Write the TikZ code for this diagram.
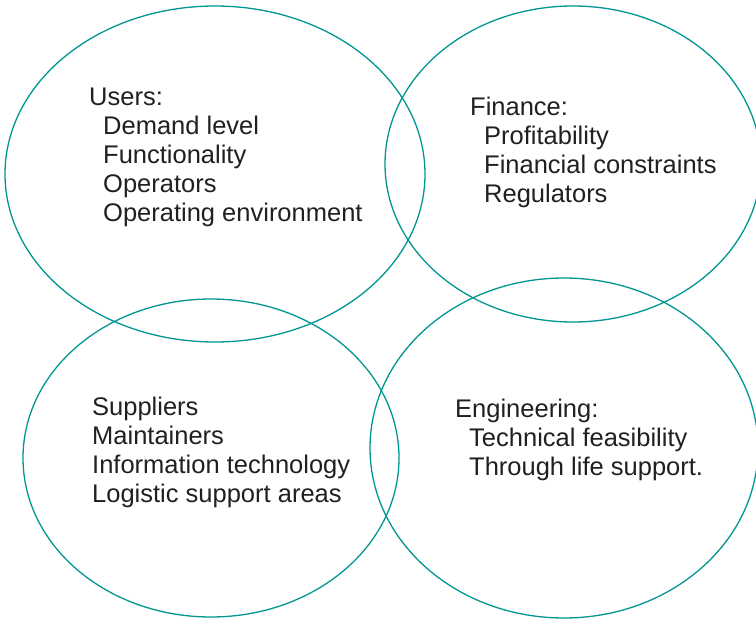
\documentclass[tikz,border=0pt]{standalone}
\usepackage{fontspec}
\setmainfont{Liberation Sans}
\usetikzlibrary{positioning}

\definecolor{venngreen}{RGB}{0,150,145}
\definecolor{venntext}{RGB}{35,31,32}
\newcommand{\ind}{\hspace*{14pt}}

\begin{document}
\begin{tikzpicture}[x=1pt,y=-1pt,
    ring/.style={draw=venngreen,line width=1.3pt},
    listtext/.style={anchor=north west,inner sep=0pt,align=left,text=venntext,font=\fontsize{25.5}{29}\selectfont}]
    \useasboundingbox (0,0) rectangle (756,621);
    \clip (0,0) rectangle (756,621);
    % ellipses
    \draw[ring] (215,174) ellipse [x radius=210pt, y radius=168pt];
    \draw[ring] (573,164) ellipse [x radius=188pt, y radius=158pt];
    \draw[ring] (211,458) ellipse [x radius=188pt, y radius=159pt];
    \draw[ring] (564,448) ellipse [x radius=194pt, y radius=170pt];
    % texts
    \node (users) at (89,88) [listtext] {Users:\\ \ind Demand level\\ \ind Functionality\\ \ind Operators\\ \ind Operating environment};
    \node (finance) at (470,97) [listtext] {Finance:\\ \ind Profitability\\ \ind Financial constraints\\ \ind Regulators};
    \node (support) at (92,397) [listtext] {Suppliers\\ Maintainers\\ Information technology\\ Logistic support areas};
    \node (engineering) at (455,399) [listtext] {Engineering:\\ \ind Technical feasibility\\ \ind Through life support.};
\end{tikzpicture}
\end{document}
